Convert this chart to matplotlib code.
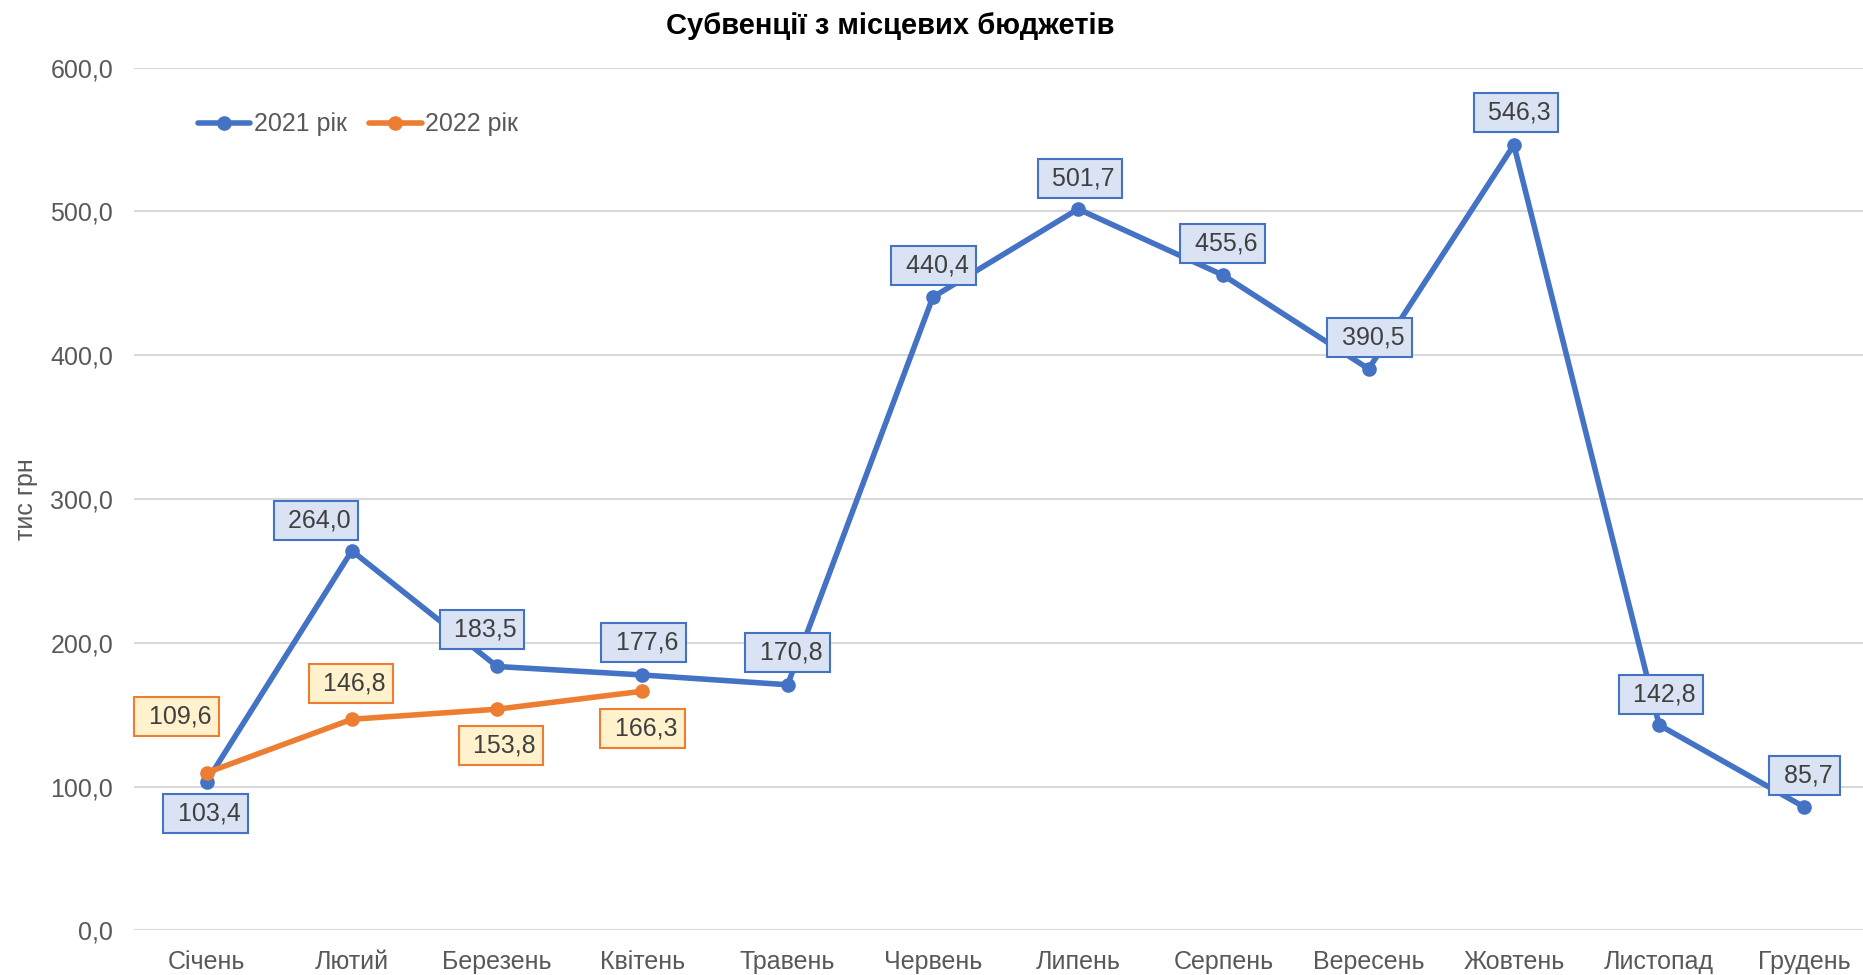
import numpy as np
import matplotlib.pyplot as plt

####################################
#               Data               #
####################################

months = ['Січень', 'Лютий', 'Березень', 'Квітень', 'Травень', 'Червень',
          'Липень', 'Серпень', 'Вересень', 'Жовтень', 'Листопад', 'Грудень']
vals_2021 = [103.4, 264.0, 183.5, 177.6, 170.8, 440.4,
             501.7, 455.6, 390.5, 546.3, 142.8, 85.7]
vals_2022 = [109.6, 146.8, 153.8, 166.3]
series_names = ['2021 рік', '2022 рік']
y_ticks = [0, 100, 200, 300, 400, 500, 600]

# label offsets (pixels, x right / y down)
off_2021 = [(-1, 32), (-36, -30), (-15, -37), (1, -32), (0, -32), (1, -32),
            (2, -31), (-1, -32), (1, -31), (2, -32), (2, -31), (0, -32)]
off_2022 = [(-30, -56), (-1, -36), (4, 36), (0, 37)]

####################################
#              Style               #
####################################

blue = '#4472C4'
orange = '#ED7D31'
grey_txt = '#595959'
plt.rcParams['font.family'] = ['Liberation Sans', 'DejaVu Sans']

W, H = 1863, 975
fig = plt.figure(figsize=(W / 100, H / 100), dpi=100)
left, right, top, bottom = 134, 1877, 67.7, 930.3
ax = fig.add_axes([left / W, 1 - bottom / H, (right - left) / W, (bottom - top) / H])

x = np.arange(len(months))
ax.plot(x, vals_2021, color=blue, lw=4, marker='o', ms=9.5, label=series_names[0],
        solid_capstyle='round', zorder=3)
ax.plot(x[:len(vals_2022)], vals_2022, color=orange, lw=4, marker='o', ms=9.5,
        label=series_names[1], solid_capstyle='round', zorder=4)

def labels(xs, ys, offs, face, edge):
    for xi, yi, (dx, dy) in zip(xs, ys, offs):
        ax.annotate(' ' + '{:.1f}'.format(yi).replace('.', ','), (xi, yi),
                    xytext=(dx, -dy), textcoords='offset pixels',
                    ha='center', va='center', fontsize=18, color='#404040',
                    bbox=dict(boxstyle='square,pad=0.3', fc=face, ec=edge, lw=1.5),
                    zorder=5)

labels(x, vals_2021, off_2021, '#DAE3F3', blue)
labels(x[:len(vals_2022)], vals_2022, off_2022, '#FFF2CC', orange)

ax.set_xlim(-0.5, len(months) - 0.5)
ax.set_ylim(0, 600)
ax.set_yticks(y_ticks)
ax.set_yticklabels(['{:.1f}'.format(v).replace('.', ',') for v in y_ticks])
ax.set_xticks(x)
ax.set_xticklabels(months)
ax.tick_params(length=0, labelsize=18, colors=grey_txt, pad=14)
ax.tick_params(axis='y', pad=15)
ax.grid(axis='y', color='#D9D9D9', lw=1.5)
ax.set_axisbelow(True)
for s in ax.spines.values():
    s.set_visible(False)

fig.text(26 / W, 1 - 499 / H, 'тис грн', rotation=90, ha='center', va='center',
         fontsize=18, color=grey_txt)
fig.text(890 / W, 1 - 26 / H, 'Субвенції з місцевих бюджетів', ha='center',
         va='center', fontsize=21, fontweight='bold', color='black')

ax.legend(loc='upper left', bbox_to_anchor=(185 / W, 1 - 100 / H),
          bbox_transform=fig.transFigure, ncol=2, frameon=False, fontsize=18,
          labelcolor=grey_txt, handlelength=2.1, handletextpad=0.15,
          columnspacing=0.9, borderpad=0)

plt.savefig('out.png', dpi=100)
